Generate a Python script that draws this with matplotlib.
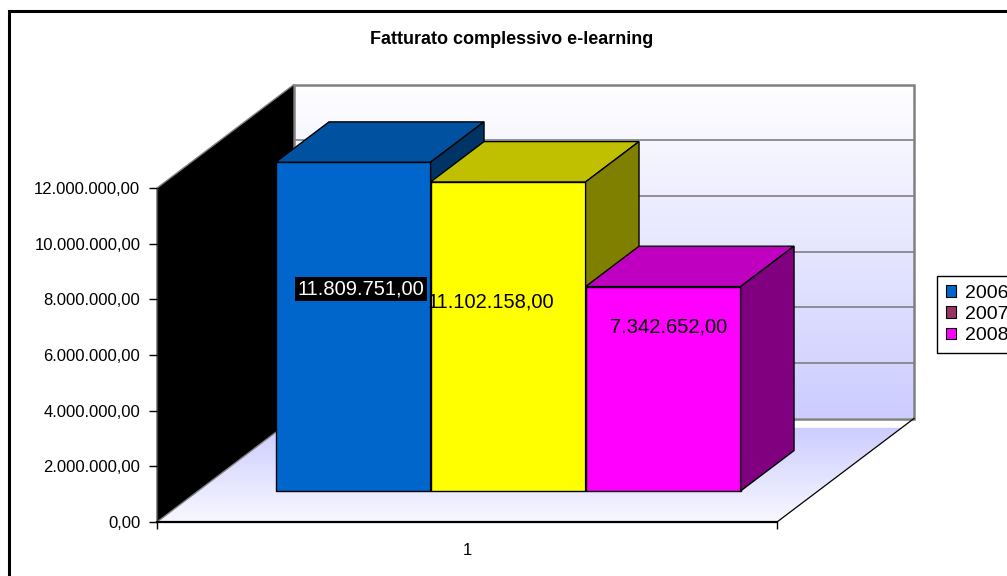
import numpy as np
import matplotlib
matplotlib.use("Agg")
import matplotlib.pyplot as plt
from matplotlib.patches import Polygon, Rectangle, Patch
from matplotlib.lines import Line2D
from matplotlib.colors import to_rgb

plt.rcParams["font.family"] = ["Liberation Sans", "DejaVu Sans"]

# ---- data -------------------------------------------------------------
title = "Fatturato complessivo e-learning"
category = "1"
years = ["2006", "2007", "2008"]
revenue = [11809751.00, 11102158.00, 7342652.00]
y_ticks = [0, 2e6, 4e6, 6e6, 8e6, 10e6, 12e6]

# ---- styles -----------------------------------------------------------
front_cols = ["#0066CC", "#FFFF00", "#FF00FF"]
top_cols = ["#00519F", "#C0C000", "#C000C0"]
side_cols = ["#003366", "#808000", "#800080"]
legend_cols = ["#0066CC", "#993366", "#FF00FF"]
label_text_cols = ["white", "black", "black"]
label_box = [True, False, False]
# label anchor points (category units, value units)
label_pos = [(0.829, 8.37e6), (1.039, 7.90e6), (1.326, 7.01e6)]

W, H = 1007, 576
fig = plt.figure(figsize=(W / 100, H / 100), dpi=100)
fig.patch.set_facecolor("white")


def fx(px):
    return px / W


def fy(py):
    return 1 - py / H


# front plane of the 3D box
ax = fig.add_axes([fx(157), fy(522), fx(777) - fx(157), fy(188) - fy(522)])
ax.set_autoscale_on(False)
ax.set_xlim(0.5, 1.5)
ax.set_ylim(0, 12e6)
ax.patch.set_visible(False)

# depth offset of the full box (category units / value units)
DX = 137 / 620
DY = 103.5 / 334 * 12e6
D0, D1 = 0.30, 0.69  # bar depth span
BAR_W = 0.25


def P(x, v, d):
    return (x + d * DX, v + d * DY)


def poly(pts, **kw):
    p = Polygon(pts, closed=True, transform=ax.transData, clip_on=False, **kw)
    ax.add_patch(p)
    return p


def gradient(c_top, c_bot, n=256):
    a = np.array(to_rgb(c_top))
    b = np.array(to_rgb(c_bot))
    t = np.linspace(0, 1, n)[:, None]
    return (a * (1 - t) + b * t)[:, None, :]


# outer chart frame
fig.add_artist(Rectangle((fx(9), fy(700)), fx(1200), fy(11) - fy(700),
                         transform=fig.transFigure, fill=False,
                         edgecolor="black", lw=2.2))

# back wall with vertical gradient
x0w, y0w = P(0.5, 0, 1)
x1w, y1w = P(1.5, 12e6, 1)
im = ax.imshow(gradient("#FFFFFF", "#CCCCFF"), extent=(x0w, x1w, y0w, y1w),
               aspect="auto", origin="upper", interpolation="bilinear", zorder=0.5)
im.set_clip_on(False)
for v in y_ticks[1:-1]:
    ax.add_line(Line2D(*zip(P(0.5, v, 1), P(1.5, v, 1)), color="#808080",
                       lw=1.2, transform=ax.transData, clip_on=False, zorder=0.6))
poly([P(0.5, 0, 1), P(1.5, 0, 1), P(1.5, 12e6, 1), P(0.5, 12e6, 1)],
     fill=False, edgecolor="#808080", lw=1.8, zorder=0.7)

# floor with depth gradient
DF = 0.91
floor_pts = [P(0.5, 0, 0), P(1.5, 0, 0), P(1.5, 0, DF), P(0.5, 0, DF)]
floor_patch = poly(floor_pts, fill=False, edgecolor="none", zorder=0.8)
fx0, fy0 = P(0.5, 0, 0)
fx1, fy1 = P(1.5, 0, DF)
im2 = ax.imshow(gradient("#CCCCFF", "#F8F8FF"), extent=(fx0, fx1, fy0, fy1),
                aspect="auto", origin="upper", interpolation="bilinear", zorder=0.8)
im2.set_clip_box(fig.bbox)
im2.set_clip_path(floor_patch)
ax.add_line(Line2D(*zip(P(1.5, 0, 0), P(1.5, 0, 1)), color="black", lw=0.9,
                   transform=ax.transData, clip_on=False, zorder=0.9))

# black side wall
poly([P(0.5, 0, 0), P(0.5, 0, 1), P(0.5, 12e6, 1), P(0.5, 12e6, 0)],
     facecolor="black", edgecolor="#808080", lw=1.0, zorder=1)

# 3D bars
centers = [1 - BAR_W, 1.0, 1 + BAR_W]
for i, (c, v) in enumerate(zip(centers, revenue)):
    xa, xb = c - BAR_W / 2, c + BAR_W / 2
    z = 2 + i
    poly([P(xa, 0, D0), P(xb, 0, D0), P(xb, v, D0), P(xa, v, D0)],
         facecolor=front_cols[i], edgecolor="black", lw=1.0, zorder=z)
    poly([P(xa, v, D0), P(xb, v, D0), P(xb, v, D1), P(xa, v, D1)],
         facecolor=top_cols[i], edgecolor="black", lw=1.0, zorder=z)
    poly([P(xb, 0, D0), P(xb, 0, D1), P(xb, v, D1), P(xb, v, D0)],
         facecolor=side_cols[i], edgecolor="black", lw=1.0, zorder=z)


def it_fmt(v):
    s = f"{v:,.2f}"
    return s.replace(",", "X").replace(".", ",").replace("X", ".")


# value labels
for i, v in enumerate(revenue):
    kw = {}
    if label_box[i]:
        kw["bbox"] = dict(boxstyle="square,pad=0.12", facecolor="black",
                          edgecolor="none")
    ax.text(label_pos[i][0], label_pos[i][1], it_fmt(v), ha="center",
            va="center", fontsize=14.5, color=label_text_cols[i], zorder=10,
            clip_on=False, **kw)

# axes
ax.set_yticks(y_ticks)
ax.set_yticklabels([it_fmt(t) for t in y_ticks])
ax.tick_params(axis="y", length=6, width=1, colors="black", labelsize=12,
               pad=6, direction="out")
ax.set_xticks([1])
ax.set_xticklabels([category])
ax.set_xticks([0.5, 1.5], minor=True)
ax.tick_params(axis="x", which="major", length=0, labelsize=12, pad=15)
ax.tick_params(axis="x", which="minor", length=5, width=1, direction="out")
for s in ("top", "right"):
    ax.spines[s].set_visible(False)
ax.spines["left"].set_color("#404040")
ax.spines["left"].set_linewidth(1.0)
ax.spines["bottom"].set_color("black")
ax.spines["bottom"].set_linewidth(1.6)
ax.spines["left"].set_zorder(1.5)
ax.spines["bottom"].set_zorder(1.5)

# title
fig.text(fx(512), fy(40), title, ha="center", va="center", fontsize=13,
         fontweight="bold")

# legend
handles = [Patch(facecolor=c, edgecolor="black", lw=0.8) for c in legend_cols]
leg = fig.legend(handles, years, loc="upper left",
                 bbox_to_anchor=(fx(937), fy(276)), bbox_transform=fig.transFigure,
                 fontsize=14, frameon=True, fancybox=False, framealpha=1,
                 edgecolor="black", borderpad=0.45, borderaxespad=0,
                 handlelength=0.55, handleheight=0.55, handletextpad=0.45,
                 labelspacing=0.22)
leg.get_frame().set_linewidth(1.0)

fig.savefig("out.png", dpi=100, facecolor="white")
